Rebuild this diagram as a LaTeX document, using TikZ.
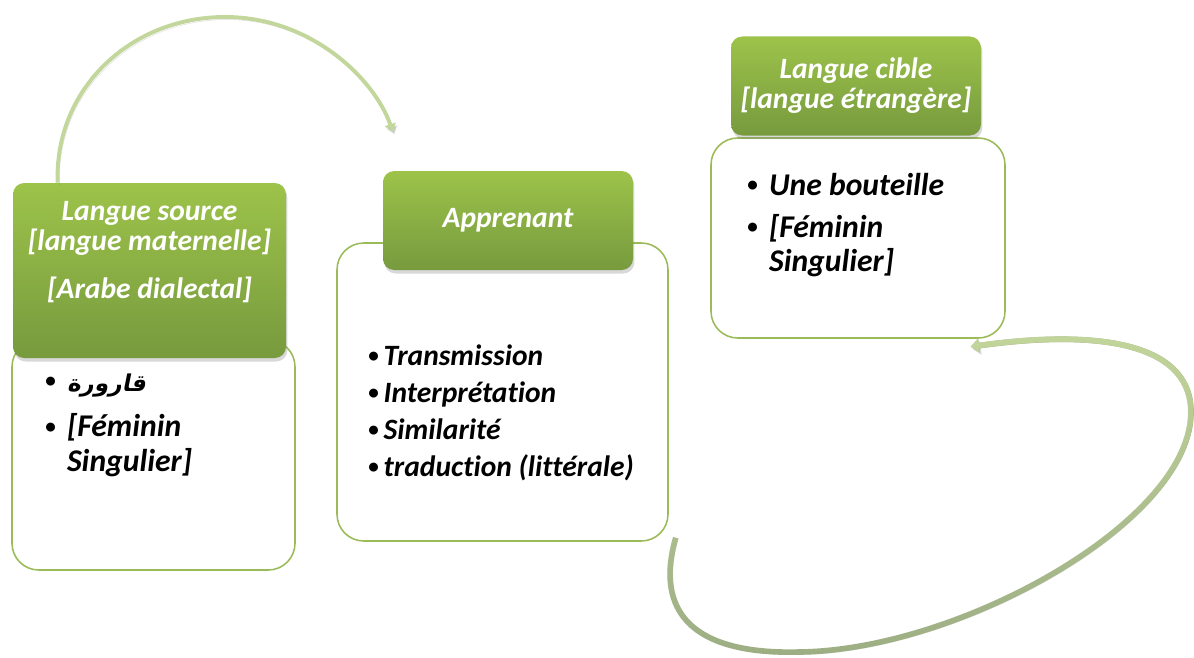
\documentclass[tikz,border=0pt]{standalone}
\usepackage{fontspec}
\setmainfont{Carlito}[Ligatures=NoCommon]
\newfontfamily\arabicfont[Script=Arabic,BoldFont={DejaVu Sans Bold},BoldFeatures={FakeSlant=0.2}]{DejaVu Sans}
\TeXXeTstate=1
\usetikzlibrary{arrows.meta,shadows,fadings,calc}

\definecolor{boxgreen}{HTML}{9BBB59}
\definecolor{headtop}{HTML}{9DC34A}
\definecolor{headbot}{HTML}{779A3E}
\definecolor{arcgreen}{HTML}{C3D69B}
\definecolor{loopdark}{HTML}{9DAE84}

\newcommand\headfont{\fontsize{21}{21.5}\selectfont\bfseries\itshape}
\newcommand\itemfont{\fontsize{22.5}{24.2}\selectfont\bfseries\itshape}
\newcommand\midfont{\fontsize{21}{21}\selectfont\bfseries\itshape}
\newcommand\bul{\raisebox{0.1em}{\fontsize{15}{15}\selectfont\upshape•}}

\tikzset{
  boxsize/.style 2 args={minimum width=#1*0.025cm, minimum height=#2*0.025cm},
  whitebox/.style={draw=boxgreen, line width=1.1pt, fill=white, rounded corners=19pt, inner sep=0pt},
  headbox/.style={rounded corners=8pt, top color=headtop, bottom color=headbot, inner sep=0pt,
    drop shadow={opacity=0.3, shadow xshift=1pt, shadow yshift=-2.5pt},
    text=white, align=center, font=\headfont},
  itemtext/.style={anchor=base west, inner sep=0pt, font=\itemfont},
  softshadow/.style={preaction={draw=black, opacity=0.12, transform canvas={shift={(1.2pt,-1.8pt)}}}},
  arcline/.style={draw=arcgreen, line width=2.8pt, -{Triangle[length=5.5pt,width=8pt]}},
  loopline/.style={line width=4pt, -{Triangle[length=6pt,width=9.5pt]}},
}

\begin{document}
\begin{tikzpicture}[x=0.025cm,y=-0.025cm]
	% fix the page size
	\useasboundingbox (0,0) rectangle (1194,657);

	% the white boxes
	\node[whitebox,boxsize={283}{230}] (srcBox) at (153.5,455) {};
	\node[whitebox,boxsize={331}{298}] (midBox) at (502.5,392) {};
	\node[whitebox,boxsize={294}{200}] (tgtBox) at (858,238) {};

	% the green headers
	\node[headbox,boxsize={273}{175}] (srcHead) at (149.5,270.5) {};
	\node[headbox,boxsize={250}{99}] (midHead) at (508,220.5) {Apprenant};
	\node[headbox,boxsize={250}{99}] (tgtHead) at (856,86) {Langue cible\\{[langue étrangère]}};
	\node[text=white,align=center,font=\headfont] (srcTitle) at (149.5,252)
		{Langue source\\{[langue maternelle]}\\[13pt]{[Arabe dialectal]}};

	% the lists
	\node[itemtext] (srcList) at (45,391) {\begin{tabular}[t]{@{}l@{\hspace{8pt}}l@{}}
		\bul & {\arabicfont\fontsize{16.5}{20}\selectfont\upshape\bfseries\beginR قارورة\endR}\\[8.5pt]
		\bul & {[Féminin}\\
		     & Singulier]
	\end{tabular}};
	\node[itemtext] (tgtList) at (747,195) {\begin{tabular}[t]{@{}l@{\hspace{8pt}}l@{}}
		\bul & Une bouteille\\[5.7pt]
		\bul & {[Féminin}\\
		     & Singulier]
	\end{tabular}};
	\foreach \txt [count=\i] in {Transmission,Interprétation,Similarité,traduction (littérale)} {
		% one line of the middle list
		\node[itemtext,font=\midfont] (midItem\i) at (368,328+37*\i) {\bul\,\txt};
	}

	% arc from the source to the learner
	\coordinate (arcEnd) at ($(midHead.north west)+(10,-39)$);
	\draw[arcline,softshadow] ($(srcHead.north west)+(45,0)$) .. controls (54,90) and (130,17) .. (225,17)
		.. controls (312,17) and (375,80) .. (arcEnd);

	% big loop from the learner to the target
	\coordinate (loopStart) at ($(midBox.south east)+(7,-4)$);
	\coordinate (loopEnd) at ($(tgtBox.south east)+(-35,8)$);
	\draw[loopline,draw=loopdark,softshadow] (loopStart) .. controls (655,610) and (690,655) .. (800,652)
		.. controls (960,650) and (1194,520) .. (1191,410) .. controls (1189,340) and (1090,330) .. (loopEnd);
	\draw[loopline,draw=arcgreen,path fading=south] (loopStart) .. controls (655,610) and (690,655) .. (800,652)
		.. controls (960,650) and (1194,520) .. (1191,410) .. controls (1189,340) and (1090,330) .. (loopEnd);
\end{tikzpicture}
\end{document}
